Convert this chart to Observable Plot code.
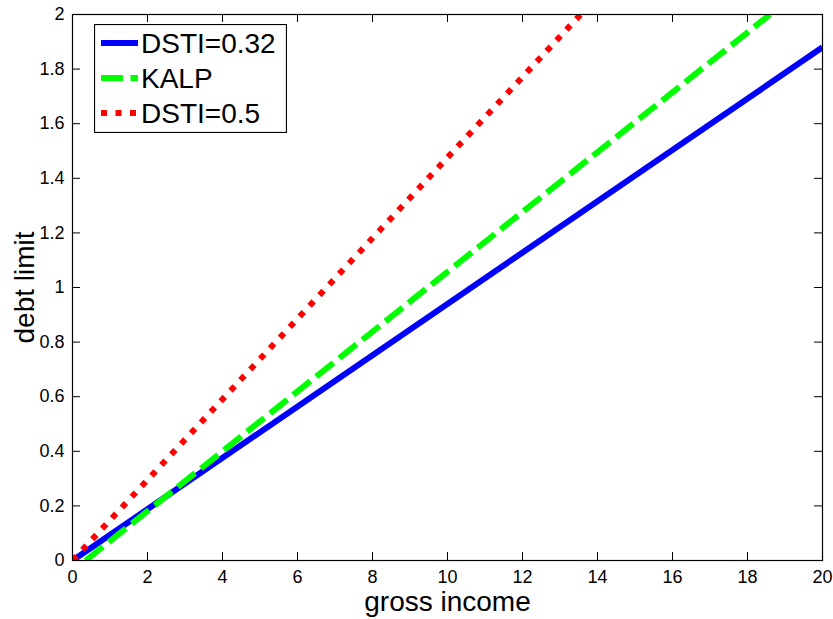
<!DOCTYPE html>
<html>
<head>
<meta charset="utf-8">
<script src="https://cdn.jsdelivr.net/npm/d3@7"></script>
<script src="https://cdn.jsdelivr.net/npm/@observablehq/plot@0.6"></script>
<style>
  html, body { margin: 0; padding: 0; background: #fff; }
  #wrap { position: relative; width: 833px; height: 619px; font-family: "Liberation Sans", Arial, sans-serif; }
  #legend { position: absolute; left: 94px; top: 24px; }
</style>
</head>
<body>
<div id="wrap"></div>
<script>
// Series (gross income -> debt limit)
const seriesNames = ["DSTI=0.32", "KALP", "DSTI=0.5"];
const dsti032Income = [0, 20];
const dsti032Limit  = [0, 1.88];
const kalpIncome    = [0.35, 18.6];
const kalpLimit     = [0, 2];
const dsti05Income  = [0, 13.55];
const dsti05Limit   = [0, 2];
const xTicks = [0, 2, 4, 6, 8, 10, 12, 14, 16, 18, 20];
const yTicks = [0, 0.2, 0.4, 0.6, 0.8, 1, 1.2, 1.4, 1.6, 1.8, 2];

const colors = ["#0000ff", "#00ff00", "#ff0000"];
const dashes = [null, "22,7.5", "6,8.5"];

const toRows = (xs, ys, name) => xs.map((x, i) => ({income: x, limit: ys[i], series: name}));
const rows = [
  ...toRows(dsti032Income, dsti032Limit, seriesNames[0]),
  ...toRows(kalpIncome, kalpLimit, seriesNames[1]),
  ...toRows(dsti05Income, dsti05Limit, seriesNames[2])
];

const W = 833, H = 619, mL = 72, mR = 11, mT = 14, mB = 59;
const innerW = W - mL - mR, innerH = H - mT - mB;
const tickLen = 8;

const lineMarks = seriesNames.map((name, i) =>
  Plot.line(rows.filter(r => r.series === name), {
    x: "income", y: "limit",
    stroke: colors[i], strokeWidth: 6,
    strokeDasharray: dashes[i] || undefined,
    strokeLinecap: "butt",
    clip: true
  })
);

const chart = Plot.plot({
  width: W, height: H,
  marginLeft: mL, marginRight: mR, marginTop: mT, marginBottom: mB,
  style: {fontFamily: "Liberation Sans, Arial, sans-serif", background: "white", color: "black", overflow: "visible"},
  x: {domain: [0, 20]},
  y: {domain: [0, 2]},
  marks: [
    ...lineMarks,
    // inward ticks on all four sides
    Plot.tickX(xTicks, {x: d => d, insetTop: innerH - tickLen, stroke: "black", strokeWidth: 1}),
    Plot.tickX(xTicks, {x: d => d, insetBottom: innerH - tickLen, stroke: "black", strokeWidth: 1}),
    Plot.tickY(yTicks, {y: d => d, insetRight: innerW - tickLen, stroke: "black", strokeWidth: 1}),
    Plot.tickY(yTicks, {y: d => d, insetLeft: innerW - tickLen, stroke: "black", strokeWidth: 1}),
    Plot.frame({stroke: "black", strokeWidth: 1.2}),
    Plot.axisX(xTicks, {tickSize: 0, tickPadding: 10, fontSize: 18, label: "gross income", labelAnchor: "center", labelArrow: "none", labelOffset: 50, tickFormat: d => String(d)}),
    Plot.axisY(yTicks, {tickSize: 0, tickPadding: 8, fontSize: 18, label: "debt limit", labelAnchor: "center", labelArrow: "none", labelOffset: 58, tickFormat: d => String(d)})
  ]
});

const wrap = document.getElementById("wrap");
wrap.appendChild(chart);

// style axis labels larger
chart.querySelectorAll('[aria-label="x-axis label"] text, [aria-label="y-axis label"] text').forEach(t => {
  t.setAttribute("font-size", "28");
  t.style.fontSize = "28px";
});

// Legend
const ns = "http://www.w3.org/2000/svg";
const lg = document.createElementNS(ns, "svg");
lg.setAttribute("id", "legend");
lg.setAttribute("width", 193);
lg.setAttribute("height", 109);
const box = document.createElementNS(ns, "rect");
box.setAttribute("x", 0.5); box.setAttribute("y", 0.5);
box.setAttribute("width", 192); box.setAttribute("height", 108);
box.setAttribute("fill", "white"); box.setAttribute("stroke", "black"); box.setAttribute("stroke-width", 1.2);
lg.appendChild(box);
seriesNames.forEach((name, i) => {
  const cy = 19 + i * 35;
  const ln = document.createElementNS(ns, "line");
  ln.setAttribute("x1", 7); ln.setAttribute("x2", 44);
  ln.setAttribute("y1", cy); ln.setAttribute("y2", cy);
  ln.setAttribute("stroke", colors[i]); ln.setAttribute("stroke-width", 6);
  if (dashes[i]) ln.setAttribute("stroke-dasharray", dashes[i]);
  lg.appendChild(ln);
  const tx = document.createElementNS(ns, "text");
  tx.setAttribute("x", 47); tx.setAttribute("y", cy + 10);
  tx.setAttribute("font-size", 28);
  tx.setAttribute("font-family", "Liberation Sans, Arial, sans-serif");
  tx.textContent = name;
  lg.appendChild(tx);
});
wrap.appendChild(lg);
</script>
</body>
</html>
